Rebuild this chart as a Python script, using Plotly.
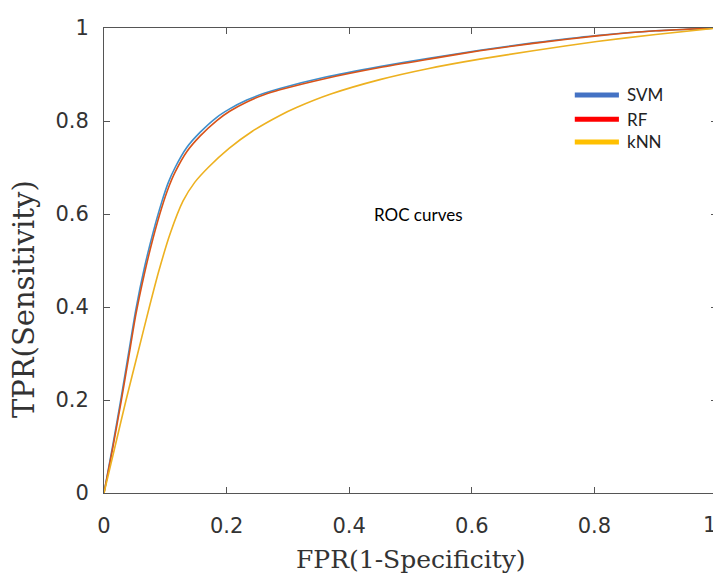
import plotly.graph_objects as go

# ---- data ----
svm_fpr = [0, 0.014, 0.028, 0.040, 0.052, 0.066, 0.080, 0.094, 0.105, 0.116, 0.135, 0.157, 0.184, 0.205, 0.233, 0.260, 0.287, 0.36, 0.45, 0.53, 0.613, 0.70, 0.804, 0.90, 1.0]
svm_tpr = [0, 0.100, 0.205, 0.300, 0.395, 0.485, 0.560, 0.625, 0.668, 0.700, 0.743, 0.776, 0.808, 0.826, 0.845, 0.859, 0.870, 0.894, 0.917, 0.935, 0.952, 0.968, 0.984, 0.994, 1.0]

rf_fpr = [0, 0.014, 0.028, 0.040, 0.052, 0.066, 0.080, 0.094, 0.105, 0.116, 0.135, 0.157, 0.184, 0.205, 0.233, 0.260, 0.287, 0.36, 0.45, 0.53, 0.613, 0.70, 0.804, 0.90, 1.0]
rf_tpr = [0, 0.095, 0.197, 0.290, 0.384, 0.472, 0.548, 0.613, 0.656, 0.690, 0.734, 0.768, 0.801, 0.821, 0.841, 0.856, 0.867, 0.891, 0.915, 0.933, 0.951, 0.967, 0.983, 0.994, 1.0]

knn_fpr = [0, 0.018, 0.036, 0.055, 0.074, 0.090, 0.108, 0.129, 0.148, 0.170, 0.204, 0.242, 0.287, 0.314, 0.37, 0.45, 0.53, 0.613, 0.70, 0.804, 0.90, 1.0]
knn_tpr = [0, 0.100, 0.200, 0.300, 0.400, 0.480, 0.558, 0.628, 0.668, 0.700, 0.741, 0.778, 0.812, 0.829, 0.858, 0.889, 0.913, 0.933, 0.951, 0.971, 0.986, 1.0]

series_names = ["SVM", "RF", "kNN"]
tick_vals = [0, 0.2, 0.4, 0.6, 0.8, 1]
tick_text = ["0", "0.2", "0.4", "0.6", "0.8", "1"]

curve_colors = ["#3f8fcc", "#d95319", "#edb120"]
legend_colors = ["#4472c4", "#ff0000", "#ffc000"]

fig = go.Figure()
for name, xs, ys, col in zip(series_names, [svm_fpr, rf_fpr, knn_fpr], [svm_tpr, rf_tpr, knn_tpr], curve_colors):
    fig.add_trace(go.Scatter(x=xs, y=ys, mode="lines", name=name,
                             line=dict(color=col, width=1.6, shape="spline", smoothing=0.6)))

tick_font = dict(family="DejaVu Sans", size=21, color="#333333")
axis_common = dict(range=[0, 1], tickvals=tick_vals,
                   showgrid=False, zeroline=False, showline=True, mirror="ticks",
                   linecolor="#555555", linewidth=1, ticks="inside", ticklen=6,
                   tickcolor="#555555", tickfont=tick_font)

# last x label sits at the page edge; it is drawn as an annotation below
x_tick_text = tick_text[:-1] + [""]

# the page places the figure 8px from the top-left corner
fig.update_layout(
    width=713, height=568,
    margin=dict(l=96, r=4, t=20, b=83),
    paper_bgcolor="white", plot_bgcolor="white",
    showlegend=False,
    xaxis=dict(**axis_common, ticktext=x_tick_text, ticklabelstandoff=14),
    yaxis=dict(**axis_common, ticktext=tick_text, ticklabelstandoff=10),
)

fig.add_annotation(text=tick_text[-1], xref="paper", yref="paper", x=1.0, y=-0.069,
                   showarrow=False, xanchor="right", yanchor="middle", borderpad=0,
                   font=tick_font)

# axis titles
fig.add_annotation(text="FPR(1-Specificity)", xref="paper", yref="paper", x=0.5, y=-0.143,
                   showarrow=False, xanchor="center", yanchor="middle",
                   font=dict(family="DejaVu Serif", size=25, color="#333333"))
fig.add_annotation(text="TPR(Sensitivity)", xref="paper", yref="paper", x=-0.1305, y=0.417,
                   showarrow=False, xanchor="center", yanchor="middle", textangle=-90,
                   font=dict(family="DejaVu Serif", size=29, color="#333333"))

# in-plot label
fig.add_annotation(text="ROC curves", xref="paper", yref="paper", x=0.438, y=0.598,
                   showarrow=False, xanchor="left", yanchor="middle",
                   font=dict(family="Lato", size=17, color="#000000"))

# custom legend
legend_y = [0.856, 0.804, 0.755]
for name, col, ly in zip(series_names, legend_colors, legend_y):
    fig.add_shape(type="line", xref="paper", yref="paper", x0=0.768, x1=0.840, y0=ly, y1=ly,
                  line=dict(color=col, width=5))
    fig.add_annotation(text=name, xref="paper", yref="paper", x=0.850, y=ly,
                       showarrow=False, xanchor="left", yanchor="middle",
                       font=dict(family="Lato", size=17, color="#222222"))

fig.write_html("out.html")
